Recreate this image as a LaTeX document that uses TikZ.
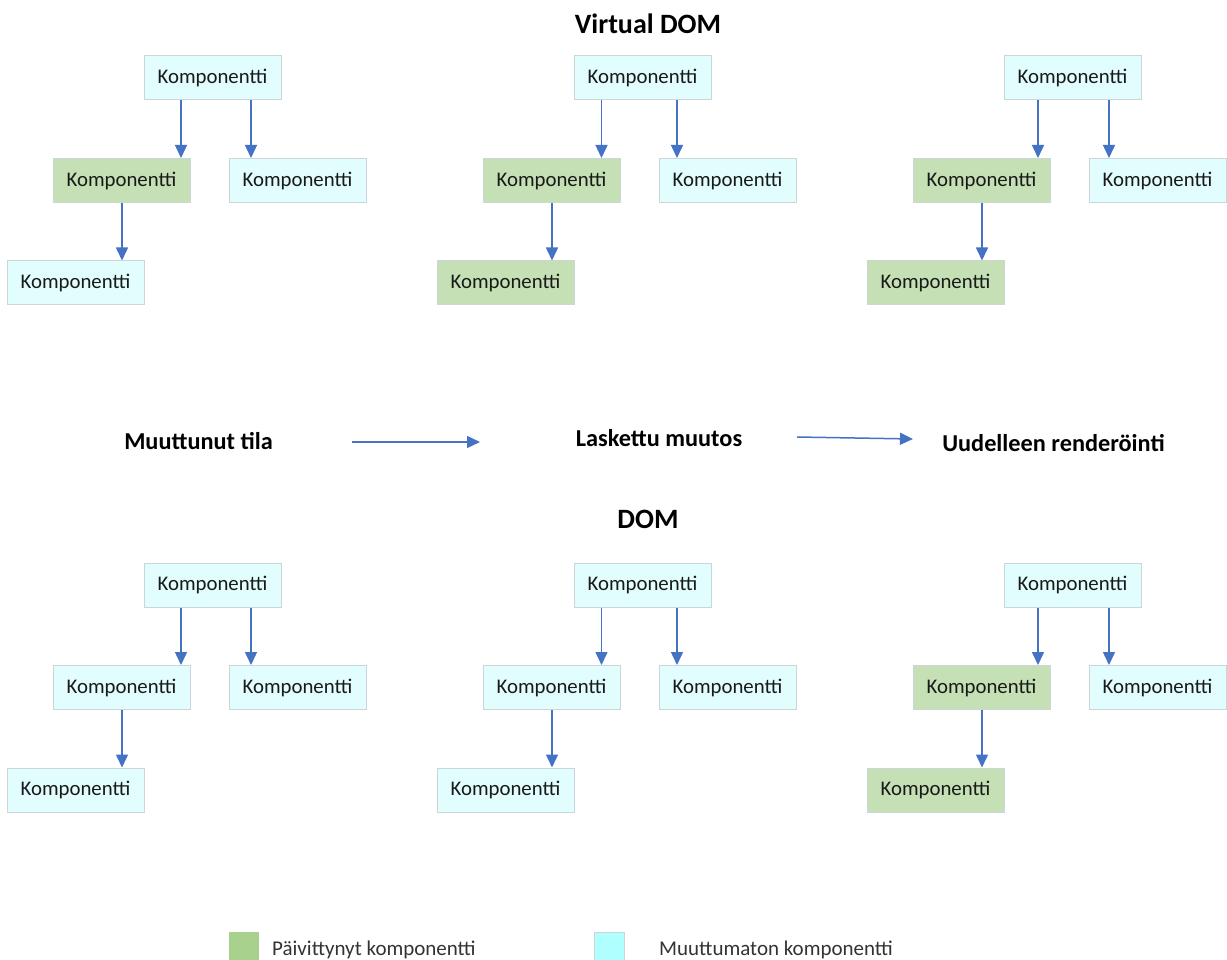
\documentclass[tikz,border=0pt]{standalone}
\usepackage{fontspec}
\setmainfont{Carlito}
\usetikzlibrary{arrows.meta}
\definecolor{cyanfill}{HTML}{E1FDFE}
\definecolor{greenfill}{HTML}{C5E0B4}
\definecolor{boxline}{HTML}{CBD6D9}
\definecolor{arrowblue}{HTML}{4472C4}
\definecolor{leggreen}{HTML}{A9D18E}
\definecolor{legcyan}{HTML}{AFFFFF}
\tikzset{
  comp/.style={draw=boxline, line width=1pt, minimum width=137pt, minimum height=44pt, inner sep=0pt,
    font=\fontsize{20.8}{24}\selectfont, text=black!90},
  unchanged/.style={comp, fill=cyanfill},
  updated/.style={comp, fill=greenfill},
  arr/.style={draw=arrowblue, line width=1.5pt, -{Triangle[length=13pt,width=12pt]}},
  title/.style={font=\fontsize{28}{31}\selectfont\bfseries, inner sep=0pt},
  stage/.style={font=\fontsize{24.3}{28}\selectfont\bfseries, inner sep=0pt},
  legbox/.style={minimum width=30pt, minimum height=30pt, inner sep=0pt},
  legtext/.style={font=\fontsize{21}{24}\selectfont, text=black!80, inner sep=0pt, anchor=base west},
}
% #1 prefix, #2/#3 shift, #4/#5 styles of middle-left and bottom node,
% #6/#7 x offsets of the two upper arrows from the top node's centre, #8 offset of the lower arrow
\newcommand{\komptree}[8]{%
  \begin{scope}[shift={(#2,#3)}]
    \node[unchanged] (#1t) at (212.5,78) {Komponentti};
    \node[#4] (#1l) at (121.5,180.5) {Komponentti};
    \node[unchanged] (#1r) at (297.5,180.5) {Komponentti};
    \node[#5] (#1b) at (75.5,283) {Komponentti};
    \coordinate (#1p) at ([xshift=#6pt]#1t.south);
    \coordinate (#1q) at ([xshift=#7pt]#1t.south);
    \coordinate (#1s) at ([xshift=#8pt]#1l.south);
    \draw[arr] (#1p) -- (#1p |- #1l.north);
    \draw[arr] (#1q) -- (#1q |- #1r.north);
    \draw[arr] (#1s) -- (#1s |- #1b.north);
  \end{scope}}
\begin{document}
\begin{tikzpicture}[x=1pt,y=-1pt]
  \useasboundingbox[fill=white] (0,0) rectangle (1227,960);
  \node[title] (vdom) at (648,24) {Virtual DOM};
  \node[title] (dom) at (648,519) {DOM};
  \komptree{va}{0}{0}{updated}{unchanged}{-31.5}{38.5}{0.5}
  \komptree{vb}{430}{0}{updated}{updated}{-41}{34.5}{0.5}
  \komptree{vc}{860}{0}{updated}{updated}{-34.5}{36.5}{0.5}
  \komptree{da}{0}{507}{unchanged}{unchanged}{-31.5}{38.5}{0.5}
  \komptree{db}{430}{507}{unchanged}{unchanged}{-41}{34.5}{0.5}
  \komptree{dc}{860}{507}{updated}{updated}{-34.5}{36.5}{0.5}
  \node[stage] (s1) at (198.5,441) {Muuttunut tila};
  \node[stage] (s2) at (659,438) {Laskettu muutos};
  \node[stage] (s3) at (1053.5,443) {Uudelleen renderöinti};
  \coordinate (a1s) at (352,442);
  \coordinate (a1e) at (480,442);
  \coordinate (a2s) at (797,437);
  \coordinate (a2e) at (913,439);
  \draw[arr] (a1s) -- (a1e);
  \draw[arr] (a2s) -- (a2e);
  \node[legbox, fill=leggreen] (lg) at (244,947) {};
  \node[legbox, fill=legcyan, draw=boxline, line width=0.5pt] (lc) at (609,947) {};
  \node[legtext] (lgt) at (272,955) {Päivittynyt komponentti};
  \node[legtext] (lct) at (659,955) {Muuttumaton komponentti};
\end{tikzpicture}
\end{document}
